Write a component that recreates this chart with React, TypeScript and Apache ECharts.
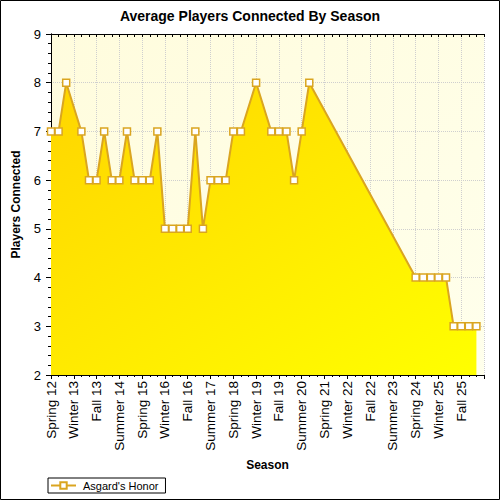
import React from 'react';
import * as echarts from 'echarts';

// Season index counted from Spring 12 (Spring, Summer, Fall, Winter ...)
const seasonIndex = [
  0, 1, 2, 4, 5, 6, 7, 8, 9, 10, 11, 12, 13, 14, 15, 16, 17, 18, 19, 20,
  21, 22, 23, 24, 25, 27, 29, 30, 31, 32, 33, 34,
  48, 49, 50, 51, 52, 53, 54, 55, 56,
];
const players = [
  7, 7, 8, 7, 6, 6, 7, 6, 6, 7, 6, 6, 6, 7, 5, 5, 5, 5, 7, 5,
  6, 6, 6, 7, 7, 8, 7, 7, 7, 6, 7, 8,
  4, 4, 4, 4, 4, 3, 3, 3, 3,
];
// one label every third season
const tickLabels = [
  'Spring 12', 'Winter 13', 'Fall 13', 'Summer 14', 'Spring 15', 'Winter 16',
  'Fall 16', 'Summer 17', 'Spring 18', 'Winter 19', 'Fall 19', 'Summer 20',
  'Spring 21', 'Winter 22', 'Fall 22', 'Summer 23', 'Spring 24', 'Winter 25',
  'Fall 25',
];

const FONT = 'Arial, "Liberation Sans", sans-serif';
const GOLD = '#DAA520';

const App: React.FC = () => {
  const chartRef = React.useRef<HTMLDivElement>(null);

  React.useEffect(() => {
    document.body.style.margin = '0';
    if (!chartRef.current) return;
    const chart = echarts.init(chartRef.current, undefined, { renderer: 'svg' });

    const dotted = { show: true, lineStyle: { color: '#cfcfcf', type: 'dotted' as const, width: 1 } };
    const blackLine = { show: true, lineStyle: { color: '#000', width: 1 } };

    chart.setOption({
      animation: false,
      backgroundColor: '#fff',
      title: {
        text: 'Average Players Connected By Season',
        left: 'center',
        top: 9,
        padding: 0,
        textStyle: { fontFamily: FONT, fontSize: 14, fontWeight: 'bold', color: '#000' },
      },
      grid: {
        left: 51,
        right: 16,
        top: 34,
        bottom: 125,
        show: true,
        borderWidth: 0,
        backgroundColor: new echarts.graphic.LinearGradient(0, 0, 1, 1, [
          { offset: 0, color: '#FFFCDD' },
          { offset: 1, color: '#FFFFEC' },
        ]),
      },
      legend: {
        left: 48,
        top: 478,
        padding: [2, 7, 2, 2],
        itemWidth: 25,
        itemHeight: 8,
        itemGap: 0,
        borderColor: '#000',
        borderWidth: 1,
        borderRadius: 0,
        backgroundColor: '#fff',
        textStyle: { fontFamily: FONT, fontSize: 11, color: '#000', padding: [0, 0, 0, 2] },
        data: ["Asgard's Honor"],
      },
      xAxis: [
        {
          type: 'value',
          position: 'bottom',
          min: 0,
          max: 57,
          interval: 3,
          name: 'Season',
          nameLocation: 'middle',
          nameGap: 84,
          nameTextStyle: { fontFamily: FONT, fontSize: 12, fontWeight: 'bold', color: '#000' },
          axisLine: blackLine,
          axisTick: { show: true, length: 4, lineStyle: { color: '#000' } },
          minorTick: { show: true, splitNumber: 3, length: 2, lineStyle: { color: '#000' } },
          axisLabel: {
            rotate: 90,
            margin: 6,
            fontFamily: FONT,
            fontSize: 13.5,
            color: '#000',
            showMaxLabel: false,
            formatter: (v: number) => tickLabels[Math.round(v / 3)] ?? '',
          },
          splitLine: dotted,
        },
        {
          type: 'value',
          position: 'top',
          min: 0,
          max: 57,
          interval: 1,
          axisLine: blackLine,
          axisTick: { show: true, inside: true, length: 3, lineStyle: { color: '#000' } },
          axisLabel: { show: false },
          splitLine: { show: false },
        },
      ],
      yAxis: [
        {
          type: 'value',
          position: 'left',
          min: 2,
          max: 9,
          interval: 1,
          name: 'Players Connected',
          nameLocation: 'middle',
          nameGap: 29,
          nameTextStyle: { fontFamily: FONT, fontSize: 12, fontWeight: 'bold', color: '#000' },
          axisLine: blackLine,
          axisTick: { show: true, length: 5, lineStyle: { color: '#000' } },
          minorTick: { show: true, splitNumber: 5, length: 3, lineStyle: { color: '#000' } },
          axisLabel: { margin: 10, fontFamily: FONT, fontSize: 13, color: '#000' },
          splitLine: dotted,
        },
        {
          type: 'value',
          position: 'right',
          min: 2,
          max: 9,
          interval: 1,
          axisLine: blackLine,
          axisTick: { show: true, inside: true, length: 4, lineStyle: { color: '#000' } },
          minorTick: { show: true, splitNumber: 5, length: 3, lineStyle: { color: '#000' } },
          axisLabel: { show: false },
          splitLine: { show: false },
        },
      ],
      series: [
        {
          name: "Asgard's Honor",
          type: 'line',
          xAxisIndex: 0,
          yAxisIndex: 0,
          data: seasonIndex.map((s, i) => [s, players[i]]),
          symbol: 'rect',
          symbolSize: 7,
          showAllSymbol: true,
          itemStyle: { color: '#fff', borderColor: GOLD, borderWidth: 1.5 },
          lineStyle: { color: GOLD, width: 2 },
          areaStyle: {
            opacity: 1,
            color: new echarts.graphic.LinearGradient(0, 0, 1, 1, [
              { offset: 0, color: '#FFD500' },
              { offset: 1, color: '#FFFF00' },
            ]),
          },
          emphasis: { disabled: true },
          z: 3,
        },
      ],
      graphic: [
        {
          type: 'rect',
          shape: { x: 0.5, y: 0.5, width: 499, height: 499 },
          style: { fill: 'none', stroke: '#000', lineWidth: 1 },
          silent: true,
        },
      ],
    });

    return () => {
      chart.dispose();
    };
  }, []);

  return <div ref={chartRef} style={{ width: '500px', height: '500px' }} />;
};

export default App;
